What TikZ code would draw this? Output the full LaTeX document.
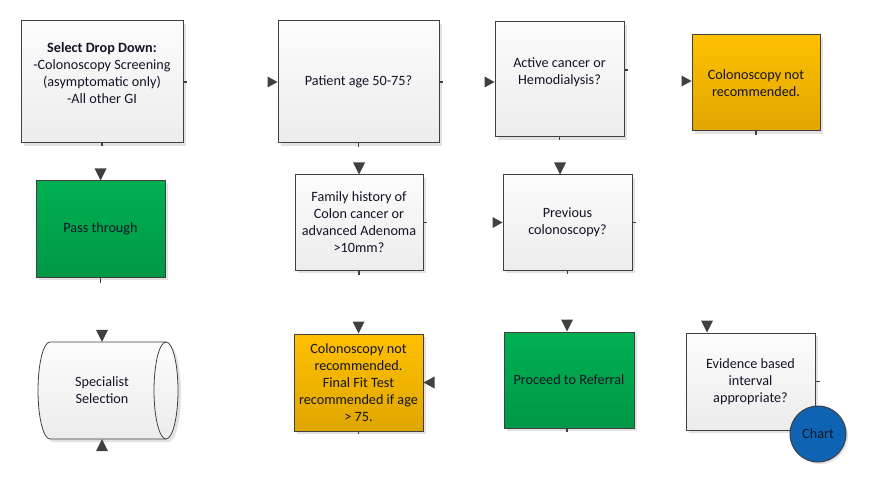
\documentclass[tikz,border=0pt]{standalone}
\usepackage{fontspec}
\setmainfont{Carlito}
\usetikzlibrary{shadows}
\definecolor{flowgray}{RGB}{64,64,64}
\definecolor{boxtop}{RGB}{252,252,252}
\definecolor{boxbottom}{RGB}{236,236,236}
\definecolor{ambertop}{RGB}{255,192,0}
\definecolor{amberbottom}{RGB}{224,166,0}
\definecolor{greentop}{RGB}{0,176,80}
\definecolor{greenbottom}{RGB}{0,152,70}
\definecolor{chartblue}{RGB}{14,100,178}
\definecolor{shadowgray}{RGB}{226,226,226}
\definecolor{inkdark}{RGB}{20,20,40}

\begin{document}
\begin{tikzpicture}[x=1pt,y=1pt,
  flowbox/.style={draw=flowgray,line width=1pt,align=center,inner sep=2pt,
    text=inkdark,font=\fontsize{14.2}{17}\selectfont,
    top color=boxtop,bottom color=boxbottom,
    drop shadow={shadow xshift=3pt,shadow yshift=-3pt,fill=shadowgray,opacity=1}},
  amberbox/.style={top color=ambertop,bottom color=amberbottom},
  greenbox/.style={top color=greentop,bottom color=greenbottom},
  chartdot/.style={circle,draw=flowgray,line width=1pt,fill=chartblue,minimum size=56pt,
    inner sep=0pt,text=inkdark,font=\fontsize{14.2}{17}\selectfont,
    drop shadow={shadow xshift=2pt,shadow yshift=-2pt,fill=shadowgray,opacity=1}},
  tipfill/.style={fill=flowgray},
  stub/.style={draw=flowgray,line width=1.2pt}]
  \useasboundingbox (0,0) rectangle (886,496);
  % Row 1
  \node[flowbox,minimum width=162pt,minimum height=122pt] (sel) at (102,414)
    {\textbf{Select Drop Down:}\\-Colonoscopy Screening\\(asymptomatic only)\\-All other GI\\\mbox{}};
  \node[flowbox,minimum width=161pt,minimum height=122pt] (age) at (358.5,414) {Patient age 50-75?};
  \node[flowbox,minimum width=129pt,minimum height=115pt] (act) at (559.5,416.5)
    {Active cancer or\\Hemodialysis?\\\mbox{}};
  \node[flowbox,amberbox,minimum width=128pt,minimum height=96pt] (nrec) at (756,413)
    {Colonoscopy not\\recommended.};
  % Row 2
  \node[flowbox,greenbox,minimum width=129pt,minimum height=96pt] (pass) at (100.5,267) {Pass through};
  \node[flowbox,minimum width=128pt,minimum height=95pt] (fam) at (359,273.5)
    {Family history of\\Colon cancer or\\advanced Adenoma\\>10mm?};
  \node[flowbox,minimum width=129pt,minimum height=95pt] (prev) at (567.5,273.5)
    {Previous\\colonoscopy?};
  % Row 3
  \fill[shadowgray] (53,151) -- (169,151) arc[start angle=90,end angle=-90,x radius=12pt,y radius=48.5pt]
    -- (53,54) arc[start angle=270,end angle=90,x radius=12pt,y radius=48.5pt] -- cycle;
  \shade[top color=boxtop,bottom color=boxbottom,draw=flowgray,line width=0.8pt]
    (50,154) -- (166,154) arc[start angle=90,end angle=-90,x radius=12pt,y radius=48.5pt]
    -- (50,57) arc[start angle=270,end angle=90,x radius=12pt,y radius=48.5pt] -- cycle;
  \draw[flowgray,line width=0.8pt] (166,154) arc[start angle=90,end angle=270,x radius=12pt,y radius=48.5pt];
  \node[align=center,text=inkdark,font=\fontsize{14.2}{17}\selectfont,
    minimum width=128pt,minimum height=97pt,inner sep=0pt] (spec) at (102,105.5) {Specialist\\Selection};
  \node[flowbox,amberbox,minimum width=129pt,minimum height=97pt] (nfit) at (358.5,113.5)
    {Colonoscopy not\\recommended.\\Final Fit Test\\recommended if age\\> 75.};
  \node[flowbox,greenbox,minimum width=130pt,minimum height=96pt] (ref) at (569,116) {Proceed to Referral};
  \node[flowbox,minimum width=129pt,minimum height=97pt] (evid) at (750.5,114.5)
    {Evidence based\\interval\\appropriate?};
  \node[chartdot] (chart) at (818,62) {Chart};
  % Offset ports
  \coordinate (actin) at ([yshift=-2.5pt]act.west);
  \coordinate (nrecin) at ([yshift=2pt]nrec.west);
  \coordinate (prevtop) at ([xshift=-7.5pt]prev.north);
  \coordinate (reftop) at ([xshift=-2pt]ref.north);
  \coordinate (evidtop) at ([xshift=-43.5pt]evid.north);
  \coordinate (actout) at ([yshift=9.5pt]act.east);
  \coordinate (refout) at ([xshift=-2pt]ref.south);
  % Arrow tips
  \foreach \p in {age.west,actin,nrecin,prev.west}
    \fill[tipfill] (\p) -- ++(-10,5.5) -- ++(0,-11) -- cycle;
  \foreach \p in {pass.north,fam.north,prevtop,spec.north,nfit.north,reftop,evidtop}
    \fill[tipfill] (\p) -- ++(-6,12) -- ++(12,0) -- cycle;
  \fill[tipfill] (spec.south) -- ++(-6,-12) -- ++(12,0) -- cycle;
  \fill[tipfill] (nfit.east) -- ++(11,6) -- ++(0,-12) -- cycle;
  % Stubs
  \foreach \p/\d in {sel.east/{3,0},sel.south/{0,-3},age.east/{3,0},age.south/{0,-4},
      actout/{3,0},act.south/{0,-3},nrec.south/{0,-4},pass.south/{0,-5},
      fam.east/{3,0},fam.south/{0,-4},prev.east/{3,0},prev.south/{0,-3},nfit.south/{0,-2},
      refout/{0,-3},evid.east/{4,0}}
    \draw[stub] (\p) -- ++(\d);
\end{tikzpicture}
\end{document}
